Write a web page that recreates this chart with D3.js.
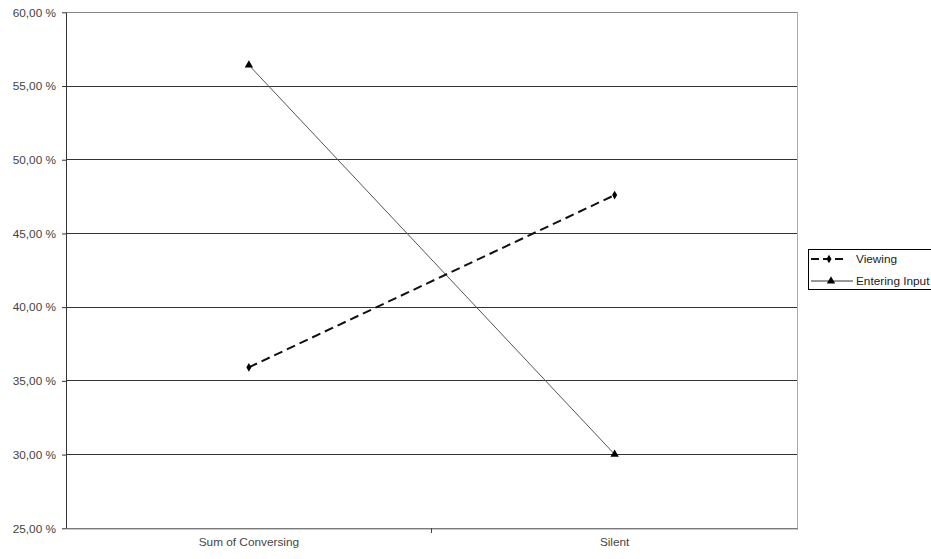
<!DOCTYPE html>
<html><head><meta charset="utf-8">
<script src="https://cdn.jsdelivr.net/npm/d3@7/dist/d3.min.js"></script>
<style>body{margin:0;background:#fff;} text{font-family:"Liberation Sans",Arial,sans-serif;}</style>
</head><body>
<svg id="c" width="931" height="559"></svg>
<script>
const categories = ["Sum of Conversing", "Silent"];
const viewing = [35.92, 47.6];
const entering = [56.42, 30.02];
const seriesNames = ["Viewing", "Entering Input"];
const yTicks = [25, 30, 35, 40, 45, 50, 55, 60];

const svg = d3.select("#c");
const L = 66, R = 797.5, T = 12.3, B = 528.3;
const FS = 11.8;
const x = d3.scaleBand().domain(categories).range([L, R]);
const y = d3.scaleLinear().domain([25, 60]).range([B, T]);
const fmt = v => v.toFixed(2).replace(".", ",") + " %";

// gridlines
svg.append("g").selectAll("line").data(yTicks.filter(t => t > 25)).join("line")
  .attr("x1", L).attr("x2", R).attr("y1", d => y(d)).attr("y2", d => y(d))
  .attr("stroke", d => d === 60 ? "#888" : "#333").attr("stroke-width", 1).attr("shape-rendering", "crispEdges");
// right border
svg.append("line").attr("x1", R).attr("x2", R).attr("y1", T).attr("y2", B)
  .attr("stroke", "#aaa").attr("shape-rendering", "crispEdges");

// y axis
const ya = svg.append("g").attr("transform", `translate(${L},0)`)
  .call(d3.axisLeft(y).tickValues(yTicks).tickFormat(fmt).tickSize(4).tickSizeOuter(0));
ya.select(".domain").attr("stroke", "#333");
ya.selectAll(".tick line").attr("stroke", "#333");
ya.selectAll("text").attr("font-size", FS).attr("fill", "#444").attr("x", -10)
  .attr("font-family", '"Liberation Sans",Arial,sans-serif');

// x axis
const xa = svg.append("g").attr("transform", `translate(0,${B})`)
  .call(d3.axisBottom(x).tickSize(0).tickSizeOuter(0));
xa.select(".domain").attr("stroke", "#444");
xa.selectAll("text").attr("font-size", FS).attr("fill", "#444").attr("dy", "1.25em")
  .attr("font-family", '"Liberation Sans",Arial,sans-serif');
// middle tick
svg.append("line").attr("x1", x(categories[1])).attr("x2", x(categories[1]))
  .attr("y1", B).attr("y2", B + 5).attr("stroke", "#444").attr("shape-rendering", "crispEdges");

const cx = c => x(c) + x.bandwidth() / 2;
const line = d3.line().x((d, i) => cx(categories[i])).y(d => y(d));

// Entering Input
svg.append("path").attr("d", line(entering)).attr("fill", "none").attr("stroke", "#555").attr("stroke-width", 1);
const tri = d3.symbol().type(d3.symbolTriangle).size(30);
svg.append("g").selectAll("path").data(entering).join("path")
  .attr("d", tri).attr("transform", (d, i) => `translate(${cx(categories[i])},${y(d)})`).attr("fill", "#000");

// Viewing
svg.append("path").attr("d", line(viewing)).attr("fill", "none").attr("stroke", "#111")
  .attr("stroke-width", 2).attr("stroke-dasharray", "9,5");
const dia = d3.symbol().type(d3.symbolDiamond).size(22);
svg.append("g").selectAll("path").data(viewing).join("path")
  .attr("d", dia).attr("transform", (d, i) => `translate(${cx(categories[i])},${y(d)})`).attr("fill", "#000");

// legend
const lg = svg.append("g");
lg.append("rect").attr("x", 808.5).attr("y", 249.5).attr("width", 140).attr("height", 40)
  .attr("fill", "#fff").attr("stroke", "#000");
const rows = [259, 281];
lg.append("line").attr("x1", 811).attr("x2", 847).attr("y1", rows[0]).attr("y2", rows[0])
  .attr("stroke", "#111").attr("stroke-width", 2).attr("stroke-dasharray", "8,4");
lg.append("path").attr("d", dia).attr("transform", `translate(829,${rows[0]})`).attr("fill", "#000");
lg.append("line").attr("x1", 811).attr("x2", 853).attr("y1", rows[1]).attr("y2", rows[1])
  .attr("stroke", "#333").attr("stroke-width", 1);
lg.append("path").attr("d", tri).attr("transform", `translate(831,${rows[1]})`).attr("fill", "#000");
lg.selectAll("text.l").data(seriesNames).join("text").attr("class", "l")
  .attr("x", 856).attr("y", (d, i) => rows[i] + 4).attr("font-size", FS).attr("fill", "#222").text(d => d);
</script>
</body></html>
